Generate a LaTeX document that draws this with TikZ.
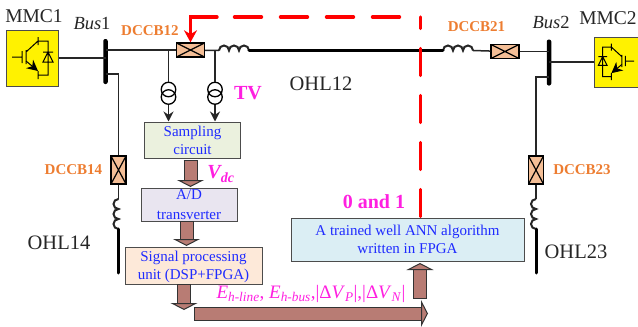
\documentclass[tikz,border=0pt]{standalone}
\usepackage{fontspec}
\setmainfont{Liberation Serif}
\usetikzlibrary{arrows.meta}

\definecolor{breakerfill}{HTML}{F4BE96}
\definecolor{dccborange}{HTML}{ED7D31}
\definecolor{blockfill}{HTML}{B87C74}
\definecolor{textblue}{HTML}{1F2BFF}
\definecolor{labelpink}{HTML}{FF1FE0}
\definecolor{samplingfill}{HTML}{EBF1DE}
\definecolor{adfill}{HTML}{E9E5F0}
\definecolor{dspfill}{HTML}{FDE9D9}
\definecolor{annfill}{HTML}{DBEEF4}

\newcommand{\fsize}[1]{\fontsize{#1}{#1}\selectfont}

\tikzset{
    x=1pt, y=-1pt,
    wire/.style={line width=1.5pt, black!85},
    ohl/.style={line width=3pt, line cap=round},
    mmcbox/.style={rectangle, draw=black!70, line width=1pt, fill=yellow, inner sep=0pt},
    busbar/.style={rectangle, fill=black, rounded corners=2pt, inner sep=0pt, minimum width=4.5pt},
    breaker/.style={rectangle, draw, line width=1.4pt, fill=breakerfill, inner sep=0pt,
        path picture={\draw[line width=1.2pt] (path picture bounding box.north west) -- (path picture bounding box.south east)
            (path picture bounding box.south west) -- (path picture bounding box.north east);}},
    hbreaker/.style={breaker, minimum width=28pt, minimum height=14pt},
    vbreaker/.style={breaker, minimum width=15pt, minimum height=28pt},
    ctcoil/.style={circle, draw, line width=1.3pt, inner sep=0pt, minimum size=14.5pt},
    procbox/.style={rectangle, draw=black!70, line width=1pt, align=center, inner sep=0pt,
        text=textblue, font=\fsize{15}, text depth=0pt},
    dccb/.style={text=dccborange, font=\fsize{15}\bfseries, inner sep=0pt},
    plain/.style={font=\fsize{18.5}, inner sep=0pt, text=black!85},
    ohltext/.style={font=\fsize{20.5}, inner sep=0pt, text=black!85},
    pink/.style={text=labelpink, font=\fsize{20}\bfseries, inner sep=0pt},
    blockarrow/.style={draw=black!80, line width=1pt, double=blockfill, double distance=#1,
        {Bar[width=#1+2pt, line width=1pt]}-{Triangle[length=7pt, width=#1+15pt, fill=blockfill, line width=1pt]}},
    signal/.style={red, line width=3.4pt, line cap=round},
    hcoil/.pic={\draw[wire, line width=2pt] (0,0) arc[start angle=180, end angle=360, radius=5]
        arc[start angle=180, end angle=360, radius=5] arc[start angle=180, end angle=360, radius=5];},
    vcoil/.pic={\draw[wire, line width=2pt] (0,0) arc[start angle=-90, end angle=-270, radius=5]
        arc[start angle=-90, end angle=-270, radius=5] arc[start angle=-90, end angle=-270, radius=5];},
    igbt/.pic={
        \draw[line width=1pt] (0,0) -- (10,0) (10,-6) -- (10,6) (14,-7) -- (14,7)
            (14,-5) -- (26,-16) (26,-20) -- (26,-12) (26,14) -- (26,22)
            (26,-16) -- (36,-16) -- (36,18) -- (26,18)
            (31,-5) -- (41,-5) (36,-5) -- (31,5) -- (41,5) -- cycle;
        \draw[line width=1pt, -{Stealth[length=11pt, width=11pt]}] (14,4) -- (26,14);
    }
}

\begin{document}
\begin{tikzpicture}
    \useasboundingbox (0,0) rectangle (638,327);

    % converters and buses
    \node[mmcbox, minimum width=52pt, minimum height=56pt] (mmc1) at (32,58) {};
    \node[mmcbox, minimum width=44pt, minimum height=50pt] (mmc2) at (616,62) {};
    \node[busbar, minimum height=45pt] (bus1) at (105.5,61.5) {};
    \node[busbar, minimum height=46pt] (bus2) at (549,62.5) {};
    \pic at (12,57) {igbt};
    \pic[xscale=-0.87, yscale=0.87] at (634,61) {igbt};

    \node[plain, font=\fsize{19.5}] (mmc1label) at (34,16) {MMC1};
    \node[plain, font=\fsize{19.5}] (mmc2label) at (608,18) {MMC2};
    \node[plain] (bus1label) at (92,24) {\textit{Bus}1};
    \node[plain] (bus2label) at (551,22) {\textit{Bus}2};

    % breakers
    \node[hbreaker] (dccb12) at (190.5,50) {};
    \node[hbreaker] (dccb21) at (505,51.5) {};
    \node[vbreaker] (dccb14) at (118.5,170) {};
    \node[vbreaker] (dccb23) at (536,170) {};

    \node[dccb] (dccb12label) at (150,31) {DCCB12};
    \node[dccb] (dccb21label) at (476.5,27) {DCCB21};
    \node[dccb] (dccb14label) at (73.5,170) {DCCB14};
    \node[dccb] (dccb23label) at (582,170) {DCCB23};

    % coils
    \coordinate (coil12a) at (219,50.5);
    \coordinate (coil12b) at (249,50.5);
    \coordinate (coil21a) at (443,50.5);
    \coordinate (coil21b) at (473,50.5);
    \coordinate (coil14a) at (118.5,199);
    \coordinate (coil14b) at (118.5,229);
    \coordinate (coil23a) at (536,199);
    \coordinate (coil23b) at (536,229);
    \pic at (coil12a) {hcoil};
    \pic at (coil21a) {hcoil};
    \pic at (coil14a) {vcoil};
    \pic at (coil23a) {vcoil};

    % line ends
    \coordinate (end14) at (118.5,273);
    \coordinate (end23) at (536,273);
    \coordinate (stub1) at (105.5,74);
    \coordinate (stub2) at (549,77);

    \draw[wire] (mmc1.east) -- (mmc1.east -| bus1);
    \draw[wire] (mmc2.west) -- (mmc2.west -| bus2);
    \draw[wire] (bus1 |- dccb12) -- (dccb12);
    \draw[wire] (dccb12) -- (coil12a);
    \draw[ohl] (coil12b) -- (coil21a);
    \draw[wire] (coil21b) -- (dccb21);
    \draw[wire] (dccb21) -- (bus2 |- dccb21);
    \draw[wire] (stub1) -| (dccb14);
    \draw[wire] (stub2) -| (dccb23);
    \draw[wire] (dccb14) -- (coil14a);
    \draw[wire] (dccb23) -- (coil23a);
    \draw[ohl] (coil14b) -- (end14);
    \draw[ohl] (coil23b) -- (end23);

    \node[ohltext] (ohl12) at (321,84) {OHL12};
    \node[ohltext] (ohl14) at (59,243) {OHL14};
    \node[ohltext] (ohl23) at (576,252) {OHL23};

    % processing chain
    \node[procbox, fill=samplingfill, minimum width=96pt, minimum height=36pt] (sampling) at (192.5,140) {Sampling\\[3pt]circuit};
    \node[procbox, fill=adfill, minimum width=96pt, minimum height=33pt] (adconv) at (189,204.5) {A/D\\[5pt]transverter};
    \node[procbox, fill=dspfill, minimum width=137pt, minimum height=37pt] (dsp) at (193.5,265.5) {Signal processing\\[3pt]unit (DSP+FPGA)};
    \node[procbox, fill=annfill, minimum width=233pt, minimum height=43pt] (ann) at (407.5,239.5) {A trained well ANN algorithm\\[3pt]written in FPGA};

    % voltage measurement
    \node[ctcoil] (tv1a) at (168.5,89.5) {};
    \node[ctcoil] (tv1b) at (168.5,97) {};
    \node[ctcoil] (tv2a) at (215,89.5) {};
    \node[ctcoil] (tv2b) at (215,97) {};
    \coordinate (tap1) at (168.5,50);
    \coordinate (tap2) at (215,50);
    \draw[wire] (tap1) -- (tv1a);
    \draw[wire] (tap2) -- (tv2a);
    \draw[wire, -{Stealth[length=10pt, width=10pt]}] (tv1b) -- (tv1b |- sampling.north);
    \draw[wire, -{Stealth[length=10pt, width=10pt]}] (tv2b) -- (tv2b |- sampling.north);

    % block arrows
    \coordinate (arrowastart) at (190.5,160);
    \coordinate (arrowaend) at (190.5,187);
    \coordinate (arrowbstart) at (186.5,221);
    \coordinate (arrowbend) at (186.5,246);
    \coordinate (arrowcstart) at (184,284);
    \coordinate (arrowcend) at (184,310);
    \coordinate (arrowdstart) at (194,313.5);
    \coordinate (arrowdend) at (428,313.5);
    \coordinate (arrowestart) at (420,299);
    \coordinate (arrowfend) at (420,263);
    \draw[blockarrow=12pt] (arrowastart) -- (arrowaend);
    \draw[blockarrow=12pt] (arrowbstart) -- (arrowbend);
    \draw[blockarrow=12pt] (arrowcstart) -- (arrowcend);
    \draw[blockarrow=12pt] (arrowdstart) -- (arrowdend);
    \draw[blockarrow=12pt] (arrowestart) -- (arrowfend);

    % trip signal
    \coordinate (tripup) at (420.5,216.5);
    \coordinate (tripcorner) at (420.5,17);
    \coordinate (tripstart) at (399.5,17);
    \coordinate (tripmid) at (234.5,17);
    \coordinate (tripend) at (217,17);
    \draw[signal, dash pattern=on 27pt off 20pt] (tripup) -- (tripcorner);
    \draw[signal, dash pattern=on 27pt off 19pt] (tripstart) -- (tripmid);
    \draw[signal, -{Stealth[length=12pt, width=13pt]}] (tripend) -| (dccb12.north);

    % labels
    \node[pink] (tvlabel) at (248,93) {TV};
    \node[pink] (zeroone) at (374,202) {0 and 1};
    \node[pink, font=\fsize{20}\bfseries\itshape] (vdc) at (221,174) {V\textsubscript{dc}};
    \node[pink, font=\fsize{19}\mdseries] (features) at (311,294) {\textit{E}\textsubscript{\textit{h-line}}, \textit{E}\textsubscript{\textit{h-bus}},|Δ\textit{V}\textsubscript{\textit{P}}|,|Δ\textit{V}\textsubscript{\textit{N}}|};
\end{tikzpicture}
\end{document}
